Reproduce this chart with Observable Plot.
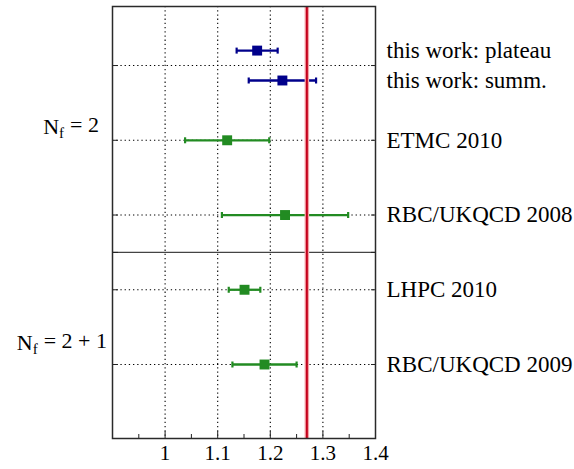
<!DOCTYPE html>
<html><head><meta charset="utf-8">
<script src="https://cdn.jsdelivr.net/npm/d3@7"></script>
<script src="https://cdn.jsdelivr.net/npm/@observablehq/plot@0.6"></script>
<style>body{margin:0;background:#fff} svg text, svg tspan{font-family:"Times New Roman",Times,"Nimbus Roman","Nimbus Roman No9 L",FreeSerif,"Noto Serif","Liberation Serif","DejaVu Serif",Georgia,serif !important;}</style>
</head><body><div id="chart"></div>
<script>
const labels = ["this work: plateau", "this work: summ.", "ETMC 2010", "RBC/UKQCD 2008", "LHPC 2010", "RBC/UKQCD 2009"];
const rowPos = [-0.2, 0.2, 1, 2, 3, 4];
const values = [1.175, 1.223, 1.118, 1.228, 1.151, 1.189];
const errors = [0.039, 0.064, 0.080, 0.120, 0.030, 0.061];
const source = ["this work", "this work", "other", "other", "other", "other"];
const gridRows = [0, 1, 2, 3, 4];
const xTicks = [1, 1.1, 1.2, 1.3, 1.4];
const xMinor = [0.95, 1.05, 1.15, 1.25, 1.35];
const separator = 2.5;
const reference = 1.2695;
const yTop = -0.79, yBottom = 4.99;
const groupLabels = [["N", "f", "= 2"], ["N", "f", "= 2 + 1"]];
const groupSpans = [[yTop, separator], [separator, yBottom]];

const data = labels.map((label, i) => ({label, pos: rowPos[i], v: values[i], e: errors[i], src: source[i]}));
const colorOf = d => d.src === "this work" ? "#00008b" : "#228b22";

const W = 574, H = 469, mL = 112, mR = 199, mT = 6, mB = 31;
const innerW = W - mL - mR, innerH = H - mT - mB;

const cap = {draw(ctx, size) { const h = Math.sqrt(size / Math.PI); ctx.moveTo(0, -h); ctx.lineTo(0, h); }};
const dotted = {stroke: "black", strokeWidth: 1.1, strokeDasharray: "1.3,2.9"};

const plot = Plot.plot({
  width: W, height: H,
  marginLeft: mL, marginRight: mR, marginTop: mT, marginBottom: mB,
  style: {fontSize: "21px", color: "black", background: "white"},
  x: {domain: [0.9, 1.4]},
  y: {domain: [yBottom, yTop], axis: null},
  marks: [
    Plot.ruleX(xTicks.filter(d => d < 1.4), {x: d => d, ...dotted}),
    Plot.ruleY(gridRows, {y: d => d, ...dotted}),
    Plot.ruleY([separator], {y: d => d, stroke: "#444", strokeWidth: 1.2}),
    Plot.ruleY(data, {y: "pos", x1: d => d.v - d.e, x2: d => d.v + d.e, stroke: colorOf, strokeWidth: 2.3}),
    Plot.dot(data, {y: "pos", x: d => d.v - d.e, symbol: cap, r: 3, stroke: colorOf, strokeWidth: 2.2}),
    Plot.dot(data, {y: "pos", x: d => d.v + d.e, symbol: cap, r: 3, stroke: colorOf, strokeWidth: 2.2}),
    Plot.ruleX([reference], {x: d => d, stroke: "#f4a3a8", strokeWidth: 4.5}),
    Plot.ruleX([reference], {x: d => d, stroke: "#c4001c", strokeWidth: 2}),
    Plot.dot(data, {y: "pos", x: "v", symbol: "square", r: 5.6, fill: colorOf, stroke: "none"}),
    Plot.tickX(xMinor, {x: d => d, stroke: "#222", insetTop: innerH - 4}),
    Plot.tickX(xTicks, {x: d => d, stroke: "#222", insetTop: innerH - 7}),
    Plot.tickY([...gridRows, separator], {y: d => d, stroke: "#222", insetRight: innerW - 6}),
    Plot.tickY([...gridRows, separator], {y: d => d, stroke: "#222", insetLeft: innerW - 4}),
    Plot.frame({stroke: "#2a2a2a", strokeWidth: 1.5}),
    Plot.axisX({ticks: xTicks, tickSize: 0, tickPadding: 7, fontSize: 21, label: null,
      tickFormat: d => String(Math.round(d * 10) / 10)}),
    Plot.text(data, {y: "pos", text: "label", frameAnchor: "right", dx: 11, textAnchor: "start", fontSize: 23})
  ]
});

const svg = d3.select(plot);
const ys = plot.scale("y");
groupLabels.forEach((parts, i) => {
  const mid = (groupSpans[i][0] + groupSpans[i][1]) / 2;
  const t = svg.append("text")
    .attr("x", i === 0 ? mL - 13 : mL - 5)
    .attr("y", ys.apply(mid))
    .attr("dy", "0.22em")
    .attr("text-anchor", "end")
    .attr("font-size", 22)
    .attr("fill", "black");
  t.append("tspan").text(parts[0]);
  t.append("tspan").attr("font-size", 15).attr("dy", "0.25em").text(parts[1]);
  t.append("tspan").attr("dy", "-0.25em").attr("dx", 6).text(parts[2]);
});

document.getElementById("chart").appendChild(plot);
</script>
</body></html>
